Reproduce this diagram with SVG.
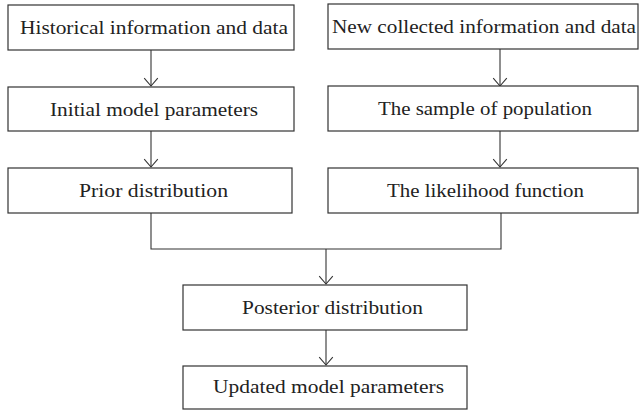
<svg xmlns="http://www.w3.org/2000/svg" width="639" height="413" viewBox="0 0 639 413">
<defs>
<marker id="arr" viewBox="0 0 10 16" refX="9.3" refY="8" markerWidth="10" markerHeight="16" markerUnits="userSpaceOnUse" orient="auto">
<path d="M1.5,1.2 L9.3,8 L1.5,14.8" fill="none" stroke="#333" stroke-width="1.1"/>
</marker>
<style>
rect{fill:#fff;stroke:#333;stroke-width:1.2}
text{font-family:"Liberation Serif","Times New Roman",serif;font-size:19.5px;fill:#222;text-anchor:middle}
.c{fill:none;stroke:#333;stroke-width:1.1}
</style>
</defs>
<rect width="639" height="413" fill="#fff" style="stroke:none"/>
<g id="connectors">
<path class="c" d="M151,50 V86" marker-end="url(#arr)"/>
<path class="c" d="M151,131 V167" marker-end="url(#arr)"/>
<path class="c" d="M500,49 V86" marker-end="url(#arr)"/>
<path class="c" d="M500,131 V167" marker-end="url(#arr)"/>
<path class="c" d="M151,213 V249 H501 V213"/>
<path class="c" d="M326,249 V284" marker-end="url(#arr)"/>
<path class="c" d="M326,330 V365" marker-end="url(#arr)"/>
</g>
<g id="n1"><rect x="8" y="5" width="286" height="45"/><text x="154" y="33.5" textLength="268" lengthAdjust="spacingAndGlyphs">Historical information and data</text></g>
<g id="n2"><rect x="8" y="87" width="286" height="44"/><text x="154" y="115.5" textLength="208" lengthAdjust="spacingAndGlyphs">Initial model parameters</text></g>
<g id="n3"><rect x="8" y="168" width="284" height="45"/><text x="153.5" y="197" textLength="149" lengthAdjust="spacingAndGlyphs">Prior distribution</text></g>
<g id="n4"><rect x="328" y="4" width="310" height="45"/><text x="484" y="33" textLength="304" lengthAdjust="spacingAndGlyphs">New collected information and data</text></g>
<g id="n5"><rect x="328" y="86" width="310" height="45"/><text x="485" y="115" textLength="214" lengthAdjust="spacingAndGlyphs">The sample of population</text></g>
<g id="n6"><rect x="328" y="168" width="310" height="45"/><text x="485.5" y="197" textLength="197" lengthAdjust="spacingAndGlyphs">The likelihood function</text></g>
<g id="n7"><rect x="183" y="285" width="284" height="45"/><text x="332.5" y="314" textLength="181" lengthAdjust="spacingAndGlyphs">Posterior distribution</text></g>
<g id="n8"><rect x="183" y="366" width="284" height="43"/><text x="328.5" y="393" textLength="231" lengthAdjust="spacingAndGlyphs">Updated model parameters</text></g>
</svg>
